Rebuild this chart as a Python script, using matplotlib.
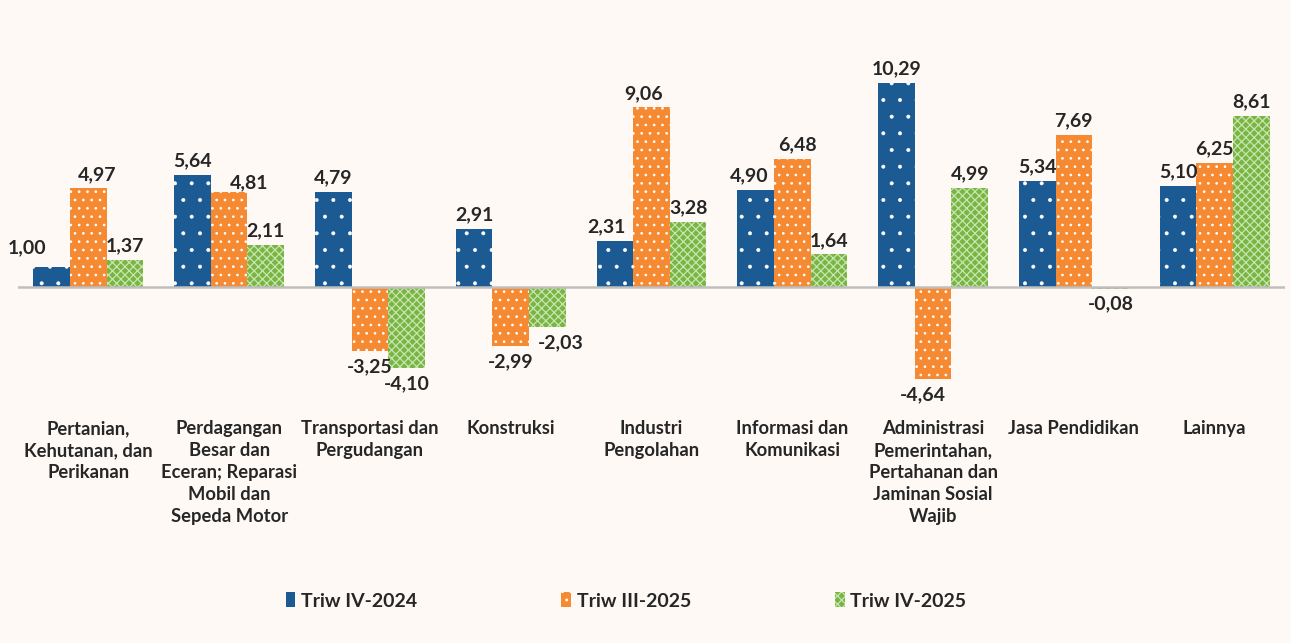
import matplotlib.pyplot as plt
import numpy as np

categories = [
    "Pertanian,\nKehutanan, dan\nPerikanan",
    "Perdagangan\nBesar dan\nEceran; Reparasi\nMobil dan\nSepeda Motor",
    "Transportasi dan\nPergudangan",
    "Konstruksi",
    "Industri\nPengolahan",
    "Informasi dan\nKomunikasi",
    "Administrasi\nPemerintahan,\nPertahanan dan\nJaminan Sosial\nWajib",
    "Jasa Pendidikan",
    "Lainnya",
]
series_names = ["Triw IV-2024", "Triw III-2025", "Triw IV-2025"]
triw_iv_2024 = [1.00, 5.64, 4.79, 2.91, 2.31, 4.90, 10.29, 5.34, 5.10]
triw_iii_2025 = [4.97, 4.81, -3.25, -2.99, 9.06, 6.48, -4.64, 7.69, 6.25]
triw_iv_2025 = [1.37, 2.11, -4.10, -2.03, 3.28, 1.64, 4.99, -0.08, 8.61]

colors = ["#1B5A92", "#F58A33", "#78B543"]
hatch_colors = ["#FFFFFF", "#FFFFFF", "#C9E5B0"]
hatches = [".", "..", "xxxx"]
hatch_lw = [0.4, 0.7, 0.9]

# label nudges in points (series, category) -> (dx, dy)
nudge = {(0, 0): (-18, 4), (1, 0): (6, 0), (1, 1): (14, -4), (2, 3): (10, 0),
         (0, 4): (-6, 0), (1, 4): (-6, 0), (0, 5): (-5, 0), (1, 5): (4, 0),
         (1, 6): (-7, 0)}

plt.rcParams["font.family"] = ["Lato", "DejaVu Sans"]
bg = "#FEF9F5"
txt_col = "#262626"

fig = plt.figure(figsize=(12.91, 6.43), dpi=100, facecolor=bg)
ax = fig.add_axes([18 / 1291, 1 - 396 / 643, 1267 / 1291, 337 / 643])
ax.set_facecolor(bg)

x = np.arange(len(categories))
w = 0.26
data = [triw_iv_2024, triw_iii_2025, triw_iv_2025]
for k, vals in enumerate(data):
    plt.rcParams["hatch.linewidth"] = hatch_lw[k]
    bars = ax.bar(x + (k - 1) * w, vals, w, color=colors[k], edgecolor=hatch_colors[k],
                  hatch=hatches[k], linewidth=0, label=series_names[k], zorder=2)
    for i, (b, v) in enumerate(zip(bars, vals)):
        if hasattr(b, "set_hatch_linewidth"):
            b.set_hatch_linewidth(hatch_lw[k])
        xc = b.get_x() + b.get_width() / 2
        txt = f"{v:.2f}".replace(".", ",")
        dx, dy = nudge.get((k, i), (0, 0))
        if v >= 0:
            ax.annotate(txt, (xc, v), xytext=(dx, 4 + dy), textcoords="offset points",
                        ha="center", va="bottom", fontsize=14, fontweight="bold", color=txt_col)
        else:
            ax.annotate(txt, (xc, v), xytext=(dx, -5 + dy), textcoords="offset points",
                        ha="center", va="top", fontsize=14, fontweight="bold", color=txt_col)

ax.axhline(0, color="#BFBFBF", linewidth=1.8, zorder=3)
ax.set_xlim(-0.5, len(categories) - 0.5)
ax.set_ylim(-5.5, 11.5)
ax.axis("off")

for i, c in enumerate(categories):
    ax.text(i, -6.7, c, ha="center", va="top", fontsize=13.2, fontweight="bold",
            color=txt_col, linespacing=1.36)

leg = fig.legend(loc="center", bbox_to_anchor=(626 / 1291, 1 - 601 / 643), ncol=3,
                 frameon=False, prop={"size": 14, "weight": "bold"},
                 handlelength=0.5, handleheight=0.8, handletextpad=0.3,
                 columnspacing=7.4)
for t in leg.get_texts():
    t.set_color(txt_col)

fig.savefig("out.png", dpi=100, facecolor=bg)
